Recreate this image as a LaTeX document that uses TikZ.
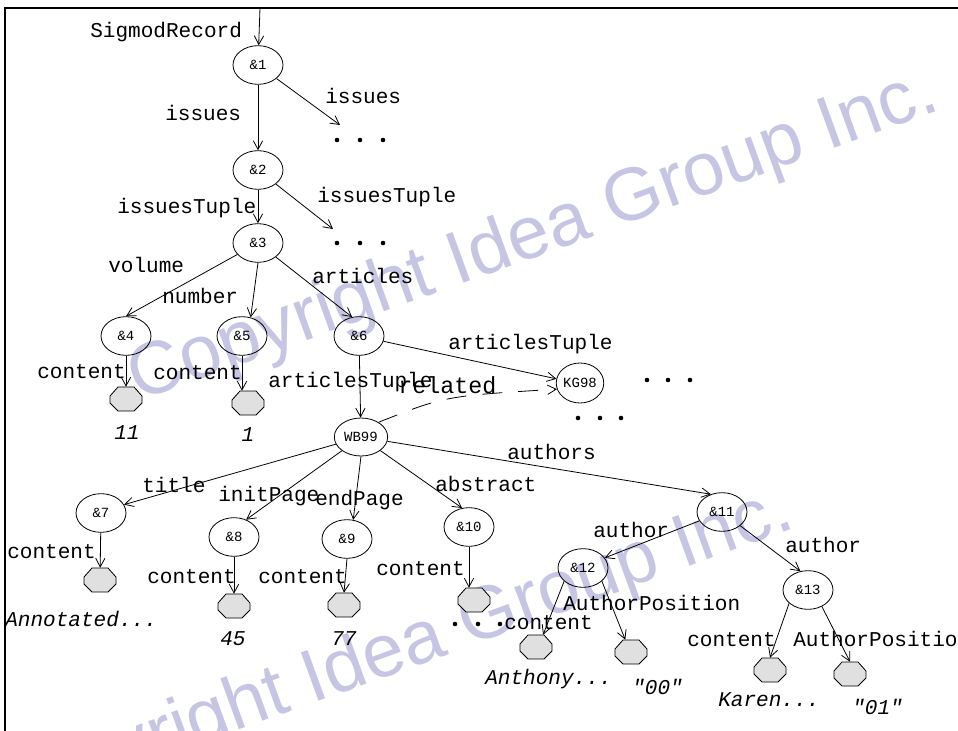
\documentclass[tikz,border=0pt]{standalone}
\usepackage{fontspec}
\usetikzlibrary{arrows.meta,shapes.geometric,calc}
\newfontfamily\lmono{Liberation Mono}
\newfontfamily\wmsans{Liberation Sans}
\definecolor{leafgray}{RGB}{224,224,224}
\definecolor{wmcol}{RGB}{198,198,228}
\newcommand\labfont{\lmono\fontsize{15.8pt}{18pt}\selectfont}
\newcommand\relfont{\lmono\fontsize{17.5pt}{20pt}\selectfont}
\newcommand\valfont{\lmono\itshape\fontsize{15.8pt}{18pt}\selectfont}
\newcommand\objfont{\lmono\fontsize{10.5pt}{12pt}\selectfont}
\newcommand\wmfont{\wmsans\fontsize{56pt}{60pt}\selectfont}
\begin{document}
\begin{tikzpicture}[x=0.75pt,y=-0.75pt,
  obj/.style={draw, line width=0.6pt, ellipse, minimum width=37.5pt, minimum height=29pt, inner sep=0pt, font=\objfont},
  leaf/.style={minimum width=24pt, minimum height=18pt, inner sep=0pt},
  octa/.style={draw, line width=0.6pt, fill=leafgray},
  lab/.style={font=\labfont, inner sep=0pt, text height=11pt, text depth=0pt, anchor=west},
  rel/.style={font=\relfont, inner sep=0pt, text height=12pt, text depth=0pt, anchor=west},
  val/.style={font=\valfont, inner sep=0pt, text height=11pt, text depth=0pt},
  dotmark/.style={fill=black},
  edge/.style={line width=0.6pt, -{Straight Barb[length=6.5pt,width=7pt]}},
  wm/.style={font=\wmfont, text=wmcol, inner sep=0pt, anchor=base west, rotate=20}
]
\useasboundingbox (0,0) rectangle (958,731);
\fill[white] (0,0) rectangle (958,731);

% watermarks
\node[wm] (wm1) at (138,402) {Copyright Idea Group Inc.};
\node[wm] (wm2) at (-7,820) {Copyright Idea Group Inc.};

% frame
\draw[line width=1pt] (5,731) -- (5,8) -- (958,8);
\draw[line width=2.2pt] (248,8) -- (273,8);
\coordinate (top) at (260,8);

% object nodes
\node[obj] (n1) at (258,65) {\&1};
\node[obj] (n2) at (258,170) {\&2};
\node[obj] (n3) at (258,243) {\&3};
\node[obj] (n4) at (126,336) {\&4};
\node[obj] (n5) at (242,336) {\&5};
\node[obj] (n6) at (359,336) {\&6};
\node[obj, minimum width=34.5pt, minimum height=30pt] (kg) at (580,383) {KG98};
\node[obj, minimum width=40pt, minimum height=28.5pt] (wb) at (361,437) {WB99};
\node[obj] (n7) at (101,513) {\&7};
\node[obj] (n8) at (234,537) {\&8};
\node[obj] (n9) at (347,539) {\&9};
\node[obj] (n10) at (469,527) {\&10};
\node[obj] (n11) at (722,512) {\&11};
\node[obj] (n12) at (583,568) {\&12};
\node[obj] (n13) at (808,590) {\&13};

% leaves (named boxes, drawn as octagons)
\node[leaf] (l4) at (126,399) {};
\node[leaf] (l5) at (248,403) {};
\node[leaf] (l7) at (100,580) {};
\node[leaf] (l8) at (234,606) {};
\node[leaf] (l9) at (344,605) {};
\node[leaf] (l10) at (474,600) {};
\node[leaf] (l12a) at (536,647) {};
\node[leaf] (l12b) at (631,652) {};
\node[leaf] (l13a) at (770,670) {};
\node[leaf] (l13b) at (850,674) {};
\foreach \n in {l4,l5,l7,l8,l9,l10,l12a,l12b,l13a,l13b}
  \draw[octa] ($(\n)+(-16,-3)$) -- ($(\n)+(-8,-12)$) -- ($(\n)+(8,-12)$) -- ($(\n)+(16,-3)$)
    -- ($(\n)+(16,4)$) -- ($(\n)+(8,12)$) -- ($(\n)+(-8,12)$) -- ($(\n)+(-16,4)$) -- cycle;

% free ends
\coordinate (e1) at (340,125);
\coordinate (e2) at (333,229);

% edges
\draw[edge] (top) -- (n1);
\draw[edge] (n1) -- (n2);
\draw[edge] (n1) -- (e1);
\draw[edge] (n2) -- (n3);
\draw[edge] (n2) -- (e2);
\draw[edge] (n3) -- (n4.north);
\draw[edge] (n3.south) -- (n5.65);
\draw[edge] (n3) -- (n6.110);
\draw[edge] (n4) -- (l4);
\draw[edge] (n5.south) -- (n5.south |- l5.north);
\draw[edge] (n6) -- (wb);
\draw[edge] (n6) -- (kg.170);
\draw[edge, dash pattern=on 15pt off 12pt] (wb.40) .. controls (445,396) .. (kg.195);
\draw[edge] (wb) -- (n7.20);
\draw[edge] (wb) -- (n8.55);
\draw[edge] (wb.south) -- (n9.72);
\draw[edge] (wb) -- (n10.110);
\draw[edge] (wb) -- (n11.122);
\draw[edge] (n7) -- (l7);
\draw[edge] (n8) -- (l8);
\draw[edge] (n9.south) -- (l9.north);
\draw[edge] (n10.south) -- (n10.south |- l10.north);
\draw[edge] (n11) -- (n12.25);
\draw[edge] (n11) -- (n13.112);
\draw[edge] (n12.215) -- (l12a.60);
\draw[edge] (n12.325) -- (l12b.115);
\draw[edge] (n13.215) -- (l13a.north);
\draw[edge] (n13.310) -- (l13b.north);

% edge labels
\node[lab] (t0) at (90,30) {SigmodRecord};
\node[lab] (t1) at (165,113) {issues};
\node[lab] (t2) at (325,96) {issues};
\node[lab] (t3) at (117,206) {issuesTuple};
\node[lab] (t4) at (317,195) {issuesTuple};
\node[lab] (t5) at (108,265) {volume};
\node[lab] (t6) at (162,296) {number};
\node[lab] (t7) at (312,276) {articles};
\node[lab] (t8) at (37,371) {content};
\node[lab] (t9) at (153,372) {content};
\node[lab] (t10) at (268,380) {articlesTuple};
\node[lab] (t11) at (448,342) {articlesTuple};
\node[rel] (t12) at (398,385) {related};
\node[lab] (t13) at (142,485) {title};
\node[lab] (t14) at (218,494) {initPage};
\node[lab] (t15) at (315,498) {endPage};
\node[lab] (t16) at (435,484) {abstract};
\node[lab] (t17) at (507,452) {authors};
\node[lab] (t18) at (7,551) {content};
\node[lab] (t19) at (147,576) {content};
\node[lab] (t20) at (258,576) {content};
\node[lab] (t21) at (376,568) {content};
\node[lab] (t22) at (593,530) {author};
\node[lab] (t23) at (785,545) {author};
\node[lab] (t24) at (504,622) {content};
\node[lab] (t25) at (563,603) {AuthorPosition};
\node[lab] (t26) at (687,639) {content};
\node[lab] (t27) at (793,639) {AuthorPosition};

% values
\node[val] (v1) at (127,432) {11};
\node[val] (v2) at (248,434) {1};
\node[val, anchor=west] (v3) at (5,619) {Annotated...};
\node[val] (v4) at (233,638) {45};
\node[val] (v5) at (344,638) {77};
\node[val, anchor=west] (v6) at (485,677) {Anthony...};
\node[val, anchor=west] (v7) at (632,687) {"00"};
\node[val, anchor=west] (v8) at (718,699) {Karen...};
\node[val, anchor=west] (v9) at (852,707) {"01"};

% ellipsis dots
\foreach \px/\py in {337/140,360/140,383/140, 337/243,360/243,383/243,
                     647/380,668/380,690/380, 578/418,600/418,621/418,
                     455/624,478/624,500/624}
  \fill[dotmark] (\px,\py) circle (2.3);
\end{tikzpicture}
\end{document}
